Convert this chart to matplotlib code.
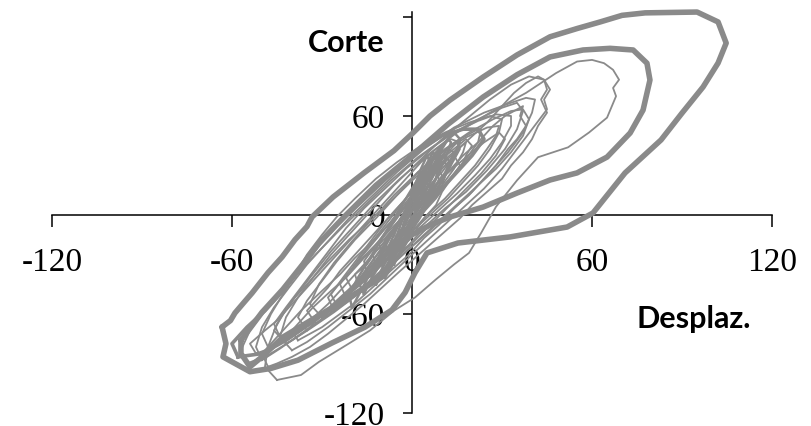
import matplotlib
matplotlib.use("Agg")
import matplotlib.pyplot as plt

# ---------------- data ----------------
x_ticks = [-120, -60, 0, 60, 120]
x_tick_labels = ["-120", "-60", "0", "60", "120"]
y_ticks = [-120, -60, 0, 60, 120]
y_tick_labels = ["-120", "-60", "0", "60", ""]

# thick outer loop
loopA_x = [-63.3, -60.5, -59, -56, -53.3, -48, -43.3, -39, -35, -33.3, -26.3, -16, -6, 0.3, 6,
           12.7, 23.7, 35, 46, 55, 62.7, 70, 77.7, 95, 102, 104.7, 102, 97, 90, 83, 71, 60.3,
           51.7, 32.7, 15.3, 5, 1, -2.3, -6.7, -15.7, -26.7, -38, -47, -54, -59, -63, -62,
           -63.3]
loopA_y = [-67.9, -64, -59.4, -53, -47.3, -35, -25.5, -15, -7, -1.2, 10.9, 25.5, 39, 49.7, 60,
           69.7, 83.6, 97, 108, 113, 117, 121, 122.5, 123, 117, 104.2, 92.1, 77.6, 61.8, 45.5,
           25.5, 1.2, -7.3, -13.3, -17, -23, -35, -47, -57.6, -68, -77.6, -88, -93, -95, -90,
           -86, -78, -67.9]

# thick second loop
loopB_x = [-57, -50, -43, -36, -31, -22, -12, 0, 12, 23.7, 35, 46, 57, 66, 73.7, 78.3, 79.3, 77,
           72.7, 65, 55, 46, 35, 23.7, 12.7, 6, 0, -5, -10, -21, -32, -43, -50, -54, -57, -57]
loopB_y = [-76, -59, -45, -29, -17, 0, 18, 36, 55, 71.5, 85, 95.8, 100, 101, 100, 92, 81.8, 63.6,
           49.7, 35.1, 25.5, 21.2, 13.3, 4.8, -1.2, -6.1, -12, -21, -37.6, -50, -62, -74, -86,
           -92, -84, -76]

# medium loop on the left side
loopC_x = [-58, -60, -55, -49, -43, -37, -31, -25, -18, -11, -4, 3, 10, 17, 22, 24, 20, 14, 8, 2,
           -4, -11, -18, -26, -34, -42, -50, -58]
loopC_y = [-86, -78, -68, -58, -46, -32, -18, -6, 6, 18, 30, 40, 48, 52, 52, 46, 36, 24, 12, 0,
           -14, -28, -42, -55, -66, -76, -84, -86]

# thin loops
t1_x = [-45, -49, -48, -45, -40, -34, -27, -20, -12, -4, 5, 15, 26, 38, 48, 55, 60, 64, 67, 69, 67,
        68, 65, 59, 52, 42, 35, 28, 23, 19, 14, 8, 1, -6, -14, -22, -31, -37, -45]
t1_y = [-100, -92, -80, -66, -52, -38, -22, -8, 8, 22, 36, 50, 62, 74, 86, 93, 94, 92, 88, 82, 77,
        72, 59, 50, 41, 35, 21, 5, -11, -23, -30, -39, -50, -58, -70, -79, -89, -97, -100]
t2_x = [-40, -44, -42, -38, -33, -27, -20, -13, -6, 2, 10, 18, 26, 33, 39, 44, 46, 44, 45, 40, 35,
        30, 24, 18, 12, 6, 0, -7, -14, -21, -28, -35, -40]
t2_y = [-82, -74, -62, -50, -38, -24, -10, 4, 18, 32, 46, 58, 70, 79, 84, 82, 76, 70, 64, 52, 40,
        28, 16, 6, -4, -14, -24, -36, -48, -58, -68, -77, -82]
t3_x = [-50, -52, -50, -46, -41, -35, -28, -21, -13, -5, 4, 14, 24, 33, 38, 41, 40, 37, 32, 26,
        20, 14, 8, 2, -5, -13, -21, -29, -37, -44, -50]
t3_y = [-88, -80, -68, -56, -44, -30, -16, -2, 12, 26, 40, 53, 62, 68, 71, 70, 62, 50, 38, 26, 14,
        4, -6, -16, -27, -39, -51, -62, -72, -81, -88]
t4_x = [-55, -57, -54, -49, -43, -37, -30, -23, -15, -7, 2, 12, 22, 30, 35, 37, 35, 31, 25, 18, 11,
        5, -1, -8, -16, -24, -32, -40, -48, -55]
t4_y = [-90, -82, -70, -58, -46, -33, -20, -7, 7, 21, 35, 48, 58, 65, 68, 63, 52, 40, 27, 14, 4,
        -6, -18, -30, -43, -55, -66, -76, -85, -90]
t5_x = [-35, -38, -35, -30, -25, -19, -12, -5, 2, 10, 18, 25, 29, 28, 25, 21, 16, 11, 5, -1, -8,
        -15, -22, -29, -33, -35]
t5_y = [-70, -62, -52, -40, -28, -15, -2, 12, 26, 38, 47, 53, 54, 48, 40, 30, 20, 10, 0, -12, -24,
        -36, -48, -59, -66, -70]
t6_x = [-30, -34, -31, -26, -20, -13, -6, 2, 9, 16, 21, 23, 22, 18, 13, 8, 3, -3, -9, -15, -21,
        -27, -30]
t6_y = [-62, -54, -42, -29, -16, -2, 12, 26, 37, 46, 51, 52, 44, 34, 23, 12, 2, -10, -22, -34, -45,
        -55, -62]
t7_x = [-22, -24, -19, -13, -7, -1, 5, 11, 15, 16, 13, 9, 5, 0, -5, -11, -16, -21, -22]
t7_y = [-50, -42, -30, -17, -4, 10, 24, 36, 44, 40, 30, 20, 10, -1, -13, -25, -36, -46, -50]
t8_x = [-42, -46, -43, -39, -34, -28, -21, -13, -5, 3, 11, 19, 27, 33, 37, 39, 37, 33, 28, 22, 16,
        10, 4, -3, -10, -18, -26, -34, -40, -42]
t8_y = [-78, -70, -60, -50, -40, -28, -15, -2, 12, 26, 40, 50, 58, 63, 64, 58, 48, 38, 28, 18, 8,
        -2, -12, -24, -36, -48, -59, -69, -76, -78]
t9_x = [-15, -16, -12, -7, -2, 3, 8, 12, 13, 10, 6, 2, -3, -8, -12, -15]
t9_y = [-35, -28, -18, -6, 6, 18, 28, 34, 30, 20, 8, -4, -16, -26, -33, -35]
t10_x = [-10, -11, -7, -3, 1, 5, 9, 10, 7, 3, -1, -5, -8, -10]
t10_y = [-25, -17, -7, 3, 14, 23, 28, 24, 14, 3, -7, -16, -23, -25]
t11_x = [-20, -22, -17, -11, -5, 1, 7, 12, 14, 11, 6, 1, -5, -11, -16, -20]
t11_y = [-45, -38, -25, -11, 3, 17, 30, 40, 38, 26, 12, -2, -16, -29, -39, -45]
t12_x = [-26, -28, -23, -17, -10, -3, 4, 11, 18, 24, 29, 31, 28, 23, 17, 11, 5, -1, -8, -15, -21,
         -26]
t12_y = [-58, -50, -39, -27, -14, -1, 12, 24, 35, 44, 50, 46, 36, 25, 14, 3, -8, -19, -31, -43, -52,
         -58]
t13_x = [-48, -50, -46, -41, -37, -30, -24, -19, -12, -7, 0, 6, 12, 19, 25, 30, 34, 38, 42, 44, 45,
         43, 45, 42, 40, 37, 33, 30, 25, 20, 16, 11, 6, 1, -4, -10, -16, -22, -28, -34, -40, -45, -48]
t13_y = [-92, -84, -76, -66, -58, -46, -36, -26, -14, -4, 10, 22, 34, 46, 56, 66, 74, 80, 84, 82,
         76, 70, 62, 54, 46, 38, 30, 22, 14, 6, -2, -10, -18, -26, -34, -44, -54, -63, -72, -80,
         -86, -90, -92]
t14_x = [-38, -40, -36, -33, -27, -22, -16, -11, -5, 0, 6, 11, 17, 22, 27, 31, 35, 37, 36, 38, 35,
         32, 28, 24, 19, 14, 9, 4, -1, -6, -12, -18, -24, -30, -35, -38]
t14_y = [-76, -70, -62, -56, -46, -38, -26, -18, -6, 2, 14, 24, 36, 44, 54, 60, 64, 66, 60, 54, 46,
         40, 30, 22, 12, 4, -6, -14, -24, -32, -42, -52, -60, -68, -73, -76]
t15_x = [-18, -19, -15, -12, -8, -4, 0, 3, 7, 10, 13, 15, 14, 16, 13, 10, 8, 4, 1, -3, -6, -10,
         -13, -16, -18]
t15_y = [-42, -36, -30, -22, -14, -4, 4, 12, 20, 28, 34, 40, 36, 30, 22, 14, 6, -2, -10, -18, -24,
         -30, -36, -40, -42]
t16_x = [-8, -9, -6, -3, 0, 3, 6, 8, 9, 7, 5, 2, -1, -4, -6, -8]
t16_y = [-22, -15, -8, 0, 8, 16, 22, 27, 22, 14, 6, -2, -10, -16, -20, -22]
t17_x = [-5, -6, -3, 0, 3, 5, 6, 4, 1, -2, -4, -5]
t17_y = [-18, -10, -2, 6, 14, 20, 16, 8, 0, -8, -14, -18]
t18_x = [-32, -35, -31, -28, -24, -20, -15, -10, -5, 0, 5, 10, 14, 18, 20, 18, 16, 12, 8, 4, 0, -4,
         -9, -14, -19, -24, -29, -32]
t18_y = [-66, -58, -50, -44, -34, -26, -16, -6, 4, 14, 24, 34, 40, 46, 42, 36, 28, 20, 10, 2, -6,
         -14, -24, -34, -44, -53, -61, -66]
t19_x = [-52, -54, -49, -45, -40, -36, -31, -27, -22, -17, -12, -7, -2, 3, 8, 13, 16, 14, 10, 5, 0,
         -5, -10, -16, -22, -28, -34, -40, -46, -52]
t19_y = [-84, -78, -70, -64, -54, -46, -36, -28, -18, -8, 2, 12, 22, 32, 40, 46, 44, 36, 26, 16, 6,
         -6, -18, -30, -42, -54, -64, -73, -80, -84]
t20_x = [-48, -50, -47, -43, -39, -35, -30, -25, -19, -12, -5, 3, 11, 19, 26, 30, 29, 26, 22, 17,
         12, 6, 0, -6, -13, -20, -28, -36, -43, -48]
t20_y = [-80, -72, -60, -48, -36, -24, -12, -1, 10, 22, 32, 42, 50, 56, 60, 58, 50, 40, 30, 20, 10,
         0, -10, -22, -34, -46, -58, -68, -76, -80]
t21_x = [-44, -46, -42, -37, -32, -27, -22, -16, -9, -2, 6, 14, 22, 28, 33, 33, 30, 26, 21, 15, 9,
         3, -3, -10, -17, -25, -33, -40, -44]
t21_y = [-74, -66, -56, -44, -32, -20, -8, 4, 16, 28, 40, 50, 57, 61, 60, 54, 44, 34, 24, 13, 3,
         -7, -18, -30, -42, -54, -64, -71, -74]
t22_x = [-12, -13, -10, -6, -2, 3, 8, 11, 12, 10, 6, 2, -2, -6, -10, -12]
t22_y = [-32, -24, -14, -4, 6, 16, 26, 32, 28, 18, 8, -2, -12, -20, -28, -32]
t23_x = [-25, -27, -23, -18, -13, -8, -2, 4, 10, 15, 18, 17, 14, 10, 5, 0, -5, -11, -17, -22, -25]
t23_y = [-55, -48, -38, -26, -14, -2, 10, 22, 32, 40, 44, 38, 28, 18, 8, -4, -16, -28, -40, -50,
         -55]
# dense core of small, steep loops around the origin
c1_x = [-6, -7, -5, -3, -1, 1, 3, 5, 6, 5, 3, 1, -1, -3, -5, -6]
c1_y = [-30, -22, -12, -2, 8, 18, 28, 36, 32, 22, 12, 2, -8, -18, -26, -30]
c2_x = [-9, -10, -8, -5, -2, 1, 4, 7, 9, 8, 5, 2, -1, -4, -7, -9]
c2_y = [-38, -30, -20, -8, 4, 16, 28, 38, 34, 22, 10, -2, -14, -24, -32, -38]
c3_x = [-3, -4, -2, 0, 2, 4, 6, 7, 5, 3, 1, -1, -3]
c3_y = [-20, -12, -4, 4, 12, 20, 28, 24, 16, 8, 0, -10, -20]
c4_x = [-12, -14, -11, -8, -5, -1, 3, 7, 10, 12, 13, 11, 8, 4, 0, -4, -8, -11, -12]
c4_y = [-42, -36, -26, -16, -6, 6, 18, 30, 40, 46, 44, 34, 22, 10, -2, -14, -26, -36, -42]
c5_x = [-16, -18, -14, -10, -6, -2, 2, 6, 9, 11, 9, 6, 2, -2, -6, -10, -14, -16]
c5_y = [-48, -40, -30, -20, -10, 2, 14, 26, 34, 38, 30, 20, 8, -4, -16, -28, -40, -48]
c6_x = [-2, -3, -1, 1, 3, 5, 8, 10, 9, 6, 3, 1, -1, -2]
c6_y = [-14, -6, 4, 14, 22, 30, 38, 42, 34, 24, 12, 2, -8, -14]
c7_x = [-20, -21, -18, -14, -10, -6, -2, 2, 5, 7, 6, 3, -1, -5, -9, -13, -17, -20]
c7_y = [-56, -48, -38, -26, -14, -2, 10, 22, 30, 34, 28, 18, 6, -6, -18, -32, -46, -56]
c8_x = [0, -1, 1, 3, 5, 8, 11, 14, 16, 15, 12, 9, 6, 3, 1, 0]
c8_y = [-4, 4, 12, 20, 28, 36, 44, 50, 46, 38, 28, 18, 10, 2, -4, -4]

thick_loops = [(loopA_x, loopA_y), (loopB_x, loopB_y)]
medium_loops = [(loopC_x, loopC_y)]
thin_loops = [(t1_x, t1_y), (t2_x, t2_y), (t3_x, t3_y), (t4_x, t4_y), (t5_x, t5_y),
              (t6_x, t6_y), (t7_x, t7_y), (t8_x, t8_y), (t9_x, t9_y), (t10_x, t10_y),
              (t11_x, t11_y), (t12_x, t12_y), (t13_x, t13_y), (t14_x, t14_y),
              (t15_x, t15_y), (t16_x, t16_y), (t17_x, t17_y), (t18_x, t18_y),
              (t19_x, t19_y), (t20_x, t20_y), (t21_x, t21_y), (t22_x, t22_y),
              (t23_x, t23_y)]
core_loops = [(c1_x, c1_y), (c2_x, c2_y), (c3_x, c3_y), (c4_x, c4_y), (c5_x, c5_y),
              (c6_x, c6_y), (c7_x, c7_y), (c8_x, c8_y)]

# ---------------- figure ----------------
GRAY = "#8a8a8a"
fig = plt.figure(figsize=(8.12, 4.26), dpi=100)
ax = fig.add_axes([0, 0, 1, 1])
ax.set_xlim(-137.3, 133.3)
ax.set_ylim(-127.9, 130.3)
ax.set_facecolor("white")

for xs, ys in thin_loops:
    ax.plot(xs, ys, color=GRAY, lw=1.3, solid_joinstyle="round", zorder=3)
for xs, ys in core_loops:
    ax.plot(xs, ys, color=GRAY, lw=1.8, solid_joinstyle="round", zorder=3)
for xs, ys in medium_loops:
    ax.plot(xs, ys, color=GRAY, lw=2.6, solid_joinstyle="round", zorder=4)
for xs, ys in thick_loops:
    ax.plot(xs, ys, color=GRAY, lw=4.0, solid_joinstyle="round",
            solid_capstyle="round", zorder=5)

for s in ["top", "right"]:
    ax.spines[s].set_visible(False)
ax.spines["left"].set_position(("data", 0))
ax.spines["bottom"].set_position(("data", 0))
ax.spines["left"].set_bounds(-120, 123)
ax.spines["bottom"].set_bounds(-120, 120)
for s in ["left", "bottom"]:
    ax.spines[s].set_linewidth(1.1)
    ax.spines[s].set_zorder(2)

serif = "Liberation Serif"
ax.set_xticks(x_ticks)
ax.set_xticklabels(x_tick_labels, fontfamily=serif, fontsize=24)
ax.set_yticks(y_ticks)
ax.set_yticklabels(y_tick_labels, fontfamily=serif, fontsize=24)
ax.tick_params(axis="x", direction="out", length=8.6, width=1.1, pad=15)
ax.tick_params(axis="y", direction="out", length=6.5, width=1.1, pad=13)
for lab in ax.get_xticklabels() + ax.get_yticklabels():
    lab.set_zorder(6)

fig.text(346 / 812, 1 - 52 / 426, "Corte", fontfamily="Lato", fontweight="bold",
         fontsize=22, ha="center", va="baseline")
fig.text(694 / 812, 1 - 328 / 426, "Desplaz.", fontfamily="Lato", fontweight="bold",
         fontsize=22, ha="center", va="baseline")

fig.savefig("out.png", dpi=100, facecolor="white")
